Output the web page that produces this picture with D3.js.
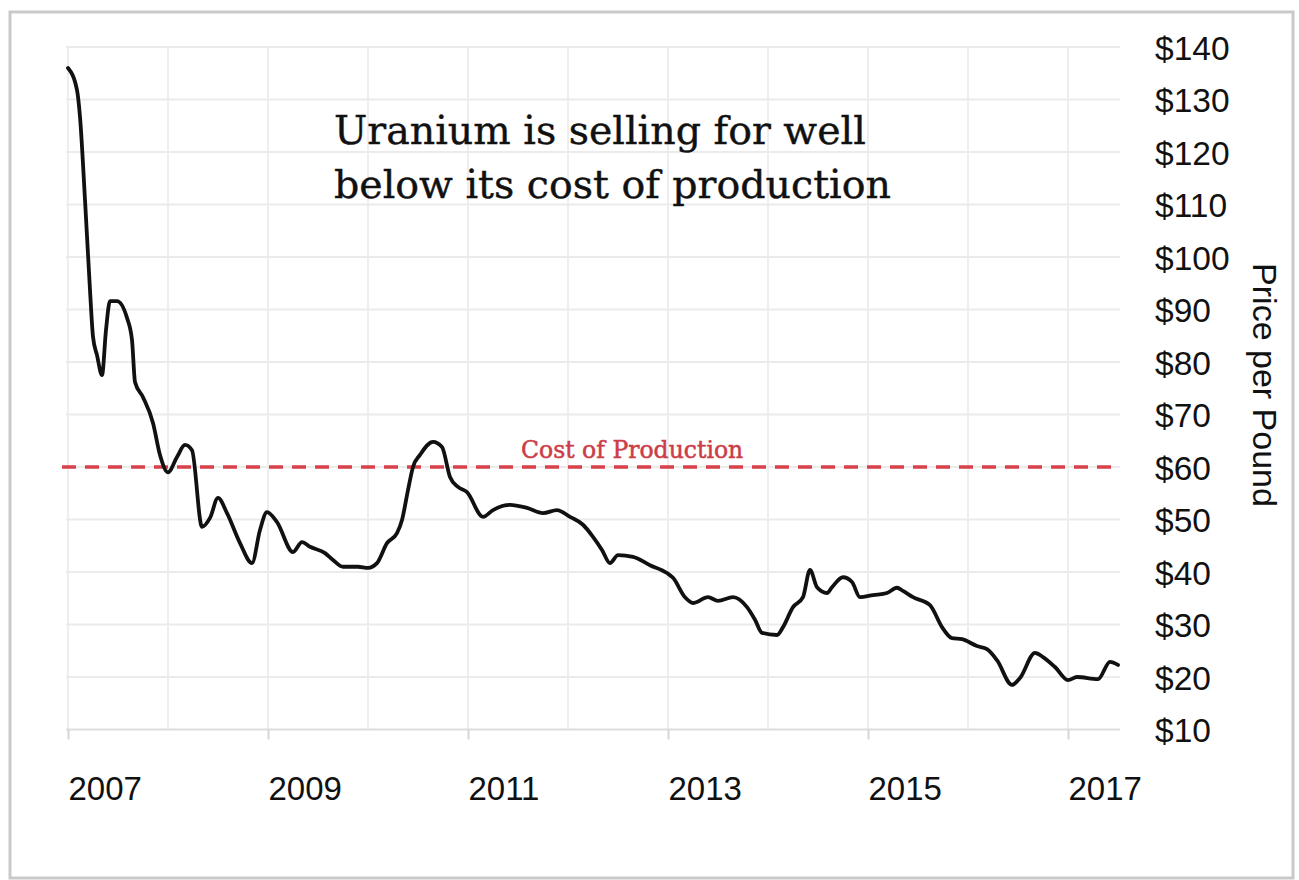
<!DOCTYPE html>
<html>
<head>
<meta charset="utf-8">
<script src="https://cdn.jsdelivr.net/npm/d3@7"></script>
<style>
  body { margin: 0; background: #fff; }
  svg { display: block; }
</style>
</head>
<body>
<div id="chart"></div>
<script>
// uranium spot price (year as decimal, $ per pound)
const years = [2007.00, 2007.09, 2007.12, 2007.17, 2007.22, 2007.25, 2007.29, 2007.34, 2007.38, 2007.42,
  2007.49, 2007.59, 2007.64, 2007.67, 2007.75, 2007.85, 2007.92, 2008.00, 2008.09, 2008.17,
  2008.24, 2008.34, 2008.42, 2008.50, 2008.59, 2008.72, 2008.84, 2008.92, 2008.99, 2009.09,
  2009.25, 2009.34, 2009.42, 2009.57, 2009.65, 2009.75, 2009.90, 2010.00, 2010.09, 2010.19,
  2010.29, 2010.34, 2010.40, 2010.45, 2010.52, 2010.65, 2010.74, 2010.82, 2010.90, 2010.99,
  2011.15, 2011.25, 2011.42, 2011.59, 2011.75, 2011.89, 2012.02, 2012.15, 2012.25, 2012.34,
  2012.42, 2012.50, 2012.65, 2012.82, 2012.99, 2013.05, 2013.17, 2013.25, 2013.40, 2013.50,
  2013.65, 2013.79, 2013.87, 2013.94, 2014.09, 2014.15, 2014.25, 2014.35, 2014.42, 2014.49,
  2014.59, 2014.64, 2014.75, 2014.84, 2014.92, 2015.05, 2015.19, 2015.29, 2015.35, 2015.45,
  2015.62, 2015.74, 2015.84, 2015.94, 2016.09, 2016.19, 2016.29, 2016.44, 2016.52, 2016.67,
  2016.75, 2016.87, 2017.00, 2017.09, 2017.30, 2017.42, 2017.50];
const prices = [136.0, 131.8, 126.7, 110.9, 93.7, 84.8, 81.3, 77.5, 86.1, 91.6,
  91.6, 88.4, 84.2, 76.2, 73.3, 68.4, 62.3, 59.0, 61.9, 64.2,
  63.2, 48.6, 50.3, 54.1, 51.2, 45.5, 41.7, 48.0, 51.4, 49.5,
  43.8, 45.7, 44.8, 43.6, 42.3, 41.0, 41.0, 40.8, 41.7, 45.5,
  47.4, 49.9, 55.6, 60.0, 62.3, 64.8, 63.8, 58.1, 56.2, 55.2,
  50.5, 51.8, 52.8, 52.2, 51.2, 51.8, 50.5, 49.0, 46.7, 44.2,
  41.7, 43.2, 42.9, 41.3, 39.8, 38.9, 35.2, 34.1, 35.2, 34.5,
  35.2, 33.3, 30.9, 28.4, 28.0, 29.5, 33.3, 35.2, 40.4, 37.1,
  36.0, 37.1, 39.0, 38.1, 35.2, 35.6, 36.0, 37.0, 36.4, 35.2,
  33.7, 29.5, 27.4, 27.2, 25.9, 25.3, 23.2, 18.5, 19.8, 24.6,
  23.8, 21.9, 19.4, 20.0, 19.6, 22.9, 22.3];

const costOfProduction = 60;
const gridYears = d3.range(2007, 2018);
const labelYears = [2007, 2009, 2011, 2013, 2015, 2017];
const priceTicks = d3.range(10, 150, 10);
const titleLines = ["Uranium is selling for well", "below its cost of production"];

const width = 1299, height = 880;

const x = d3.scaleLinear([2006.98, 2017.52], [66, 1120]);
const y = d3.scaleLinear([10, 140], [729.5, 47]);

const svg = d3.select("#chart")
  .append("svg")
  .attr("width", width)
  .attr("height", height);

// outer frame
svg.append("rect")
  .attr("x", 10).attr("y", 12)
  .attr("width", 1283).attr("height", 866)
  .attr("fill", "#fff")
  .attr("stroke", "#c9c9c9")
  .attr("stroke-width", 3);

// grid
svg.append("g")
  .selectAll("line")
  .data(gridYears)
  .join("line")
  .attr("x1", d => x(d)).attr("x2", d => x(d))
  .attr("y1", y(140)).attr("y2", y(10))
  .attr("stroke", "#eeeeee")
  .attr("stroke-width", 2);

svg.append("g")
  .selectAll("line")
  .data(priceTicks)
  .join("line")
  .attr("x1", x.range()[0]).attr("x2", x.range()[1])
  .attr("y1", d => y(d)).attr("y2", d => y(d))
  .attr("stroke", d => d === 10 ? "#dddddd" : "#ebebeb")
  .attr("stroke-width", 2);

// x axis
const xAxis = d3.axisBottom(x)
  .tickValues(labelYears)
  .tickSize(10)
  .tickFormat(d3.format("d"));

const gx = svg.append("g")
  .attr("transform", `translate(0,${y(10)})`)
  .call(xAxis);
gx.select(".domain").remove();
gx.selectAll(".tick line").attr("stroke", "#d6d6d6").attr("stroke-width", 2);
gx.selectAll(".tick text")
  .attr("text-anchor", "start")
  .attr("y", 0)
  .attr("dy", 0)
  .attr("transform", "translate(0,70)")
  .attr("fill", "#111")
  .style("font-family", "'Liberation Sans', Arial, sans-serif")
  .style("font-size", "33px");

// y axis on the right, labels only
const yAxis = d3.axisRight(y)
  .tickValues(priceTicks)
  .tickSize(0)
  .tickPadding(0)
  .tickFormat(d => "$" + d);

const gy = svg.append("g")
  .attr("transform", "translate(1155,0)")
  .call(yAxis);
gy.select(".domain").remove();
gy.selectAll(".tick text")
  .attr("fill", "#111")
  .attr("dy", "0.36em")
  .style("font-family", "'Liberation Sans', Arial, sans-serif")
  .style("font-size", "33.5px");

svg.append("text")
  .attr("transform", "translate(1253,385) rotate(90)")
  .attr("text-anchor", "middle")
  .attr("fill", "#111")
  .style("font-family", "'Liberation Sans', Arial, sans-serif")
  .style("font-size", "34px")
  .text("Price per Pound");

// cost of production line
svg.append("line")
  .attr("x1", x.range()[0] - 4).attr("x2", x.range()[1])
  .attr("y1", y(costOfProduction)).attr("y2", y(costOfProduction))
  .attr("stroke", "#d8404a")
  .attr("stroke-width", 3.5)
  .attr("stroke-dasharray", "14,9");

svg.append("text")
  .attr("x", 521).attr("y", 458)
  .attr("fill", "#cc3d47")
  .attr("stroke", "#cc3d47")
  .attr("stroke-width", 0.5)
  .style("font-family", "'DejaVu Serif', serif")
  .style("font-size", "23.5px")
  .text("Cost of Production");

// price line
const line = d3.line()
  .x((d, i) => x(years[i]))
  .y(d => y(d))
  .curve(d3.curveMonotoneX);

svg.append("path")
  .datum(prices)
  .attr("d", line)
  .attr("fill", "none")
  .attr("stroke", "#111")
  .attr("stroke-width", 3.8)
  .attr("stroke-linejoin", "round")
  .attr("stroke-linecap", "round");

// annotation
svg.append("g")
  .selectAll("text")
  .data(titleLines)
  .join("text")
  .attr("x", 334)
  .attr("y", (d, i) => 144 + i * 54)
  .attr("fill", "#111")
  .attr("stroke", "#111")
  .attr("stroke-width", 0.4)
  .style("font-family", "'DejaVu Serif', serif")
  .style("font-size", "39.5px")
  .text(d => d);
</script>
</body>
</html>
